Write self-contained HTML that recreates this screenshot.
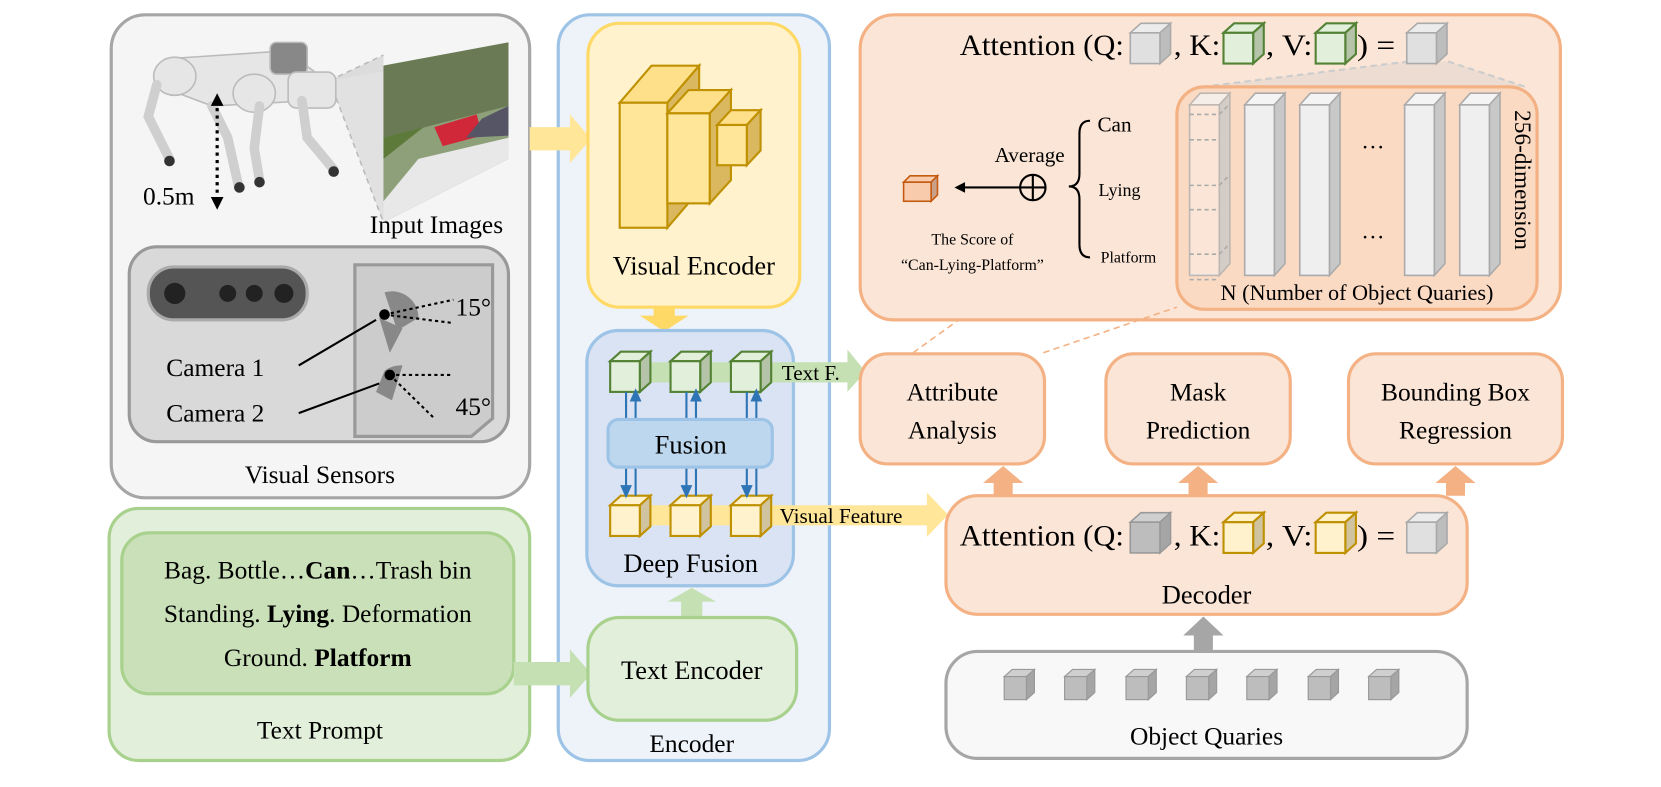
<!DOCTYPE html>
<html><head><meta charset="utf-8"><style>
body{margin:0;background:#fff}
svg{display:block;font-family:"Liberation Serif",serif}
</style></head><body>
<svg width="1661" height="787" viewBox="0 0 1568 743" preserveAspectRatio="none" font-family="Liberation Serif, serif" xmlns="http://www.w3.org/2000/svg">
<defs>
<g id="cg"><path d="M0 9 L10 0 L38 0 L28 9Z" fill="#ececec" stroke="#aaa" stroke-width="1.5"/><path d="M28 9 L38 0 L38 29 L28 38Z" fill="#bdbdbd" stroke="#aaa" stroke-width="1.5"/><rect x="0" y="9" width="28" height="29" fill="#e0e0e0" stroke="#aaa" stroke-width="1.5"/></g>
<g id="cgr"><path d="M0 9 L10 0 L38 0 L28 9Z" fill="#e2efda" stroke="#548235" stroke-width="2"/><path d="M28 9 L38 0 L38 29 L28 38Z" fill="#b5c4a8" stroke="#548235" stroke-width="2"/><rect x="0" y="9" width="28" height="29" fill="#e2efda" stroke="#548235" stroke-width="2"/></g>
<g id="cy"><path d="M0 9 L10 0 L38 0 L28 9Z" fill="#fff2cc" stroke="#bf9000" stroke-width="2"/><path d="M28 9 L38 0 L38 29 L28 38Z" fill="#d0c3a0" stroke="#bf9000" stroke-width="2"/><rect x="0" y="9" width="28" height="29" fill="#fff2cc" stroke="#bf9000" stroke-width="2"/></g>
<g id="cq"><path d="M0 9 L10 0 L38 0 L28 9Z" fill="#cfcfcf" stroke="#999" stroke-width="1.5"/><path d="M28 9 L38 0 L38 29 L28 38Z" fill="#a5a5a5" stroke="#999" stroke-width="1.5"/><rect x="0" y="9" width="28" height="29" fill="#bdbdbd" stroke="#999" stroke-width="1.5"/></g>
<g id="col"><path d="M0 11 L10 0 L38 0 L28 11Z" fill="#f4f4f4" stroke="#aaa" stroke-width="1.5"/><path d="M28 11 L38 0 L38 161 L28 172Z" fill="#c8c8c8" stroke="#aaa" stroke-width="1.5"/><rect x="0" y="11" width="28" height="161" fill="#efefef" stroke="#aaa" stroke-width="1.5"/></g>
</defs>

<!-- Left top -->
<rect x="105" y="14" width="395" height="456" rx="32" fill="#f5f5f5" stroke="#a6a6a6" stroke-width="3"/>
<path d="M311 76 L362 52 L362 210 Z" fill="#dcdcdc"/>
<path d="M311 76 L480 48 L480 150 L362 210Z" fill="#e4e4e4" opacity="0.6"/>
<line x1="311" y1="76" x2="362" y2="52" stroke="#bbb" stroke-dasharray="5,4" stroke-width="1.5"/>
<line x1="311" y1="76" x2="362" y2="210" stroke="#bbb" stroke-dasharray="5,4" stroke-width="1.5"/>
<path d="M362 62 L480 40 L480 150 L362 210Z" fill="#8ea07a"/>
<path d="M362 62 L480 40 L480 100 L362 130Z" fill="#6a7a55"/>
<path d="M362 130 L400 120 L362 150Z" fill="#5d7a3a"/>
<path d="M410 120 L450 108 L455 128 L418 138Z" fill="#d02838"/>
<path d="M362 190 L395 150 L480 130 L480 150 L362 210Z" fill="#e8e8e8"/>
<path d="M480 100 L480 128 L440 130 L455 112Z" fill="#556"/>
<g fill="#e6e6e6" stroke="#bbb" stroke-width="1.5">
<path d="M165 55 L270 48 L300 70 L295 95 L200 100 L160 85Z"/>
<ellipse cx="165" cy="72" rx="20" ry="18"/>
<ellipse cx="240" cy="88" rx="20" ry="18"/>
<rect x="255" y="40" width="35" height="30" rx="6" fill="#888"/>
<rect x="272" y="68" width="45" height="34" rx="8"/>
</g>
<g fill="none" stroke="#cfcfcf" stroke-width="9" stroke-linecap="round">
<path d="M148 80 L140 110 L160 150"/><path d="M200 100 L215 130 L225 175"/><path d="M245 100 L240 140 L245 170"/><path d="M285 95 L290 130 L315 160"/>
</g>
<g fill="#333"><circle cx="160" cy="152" r="5"/><circle cx="226" cy="177" r="5"/><circle cx="245" cy="172" r="5"/><circle cx="315" cy="162" r="5"/></g>
<line x1="205" y1="95" x2="205" y2="190" stroke="#000" stroke-width="3" stroke-dasharray="3,4"/>
<path d="M199 186 L205 198 L211 186Z"/><path d="M199 100 L205 88 L211 100Z"/>
<text x="135" y="193" font-size="24">0.5m</text>
<text x="412" y="220" font-size="24" text-anchor="middle">Input Images</text>
<rect x="122" y="233" width="358" height="184" rx="26" fill="#d9d9d9" stroke="#999" stroke-width="3"/>
<rect x="140" y="252" width="150" height="50" rx="24" fill="#555" stroke="#aaa" stroke-width="3"/>
<circle cx="165" cy="277" r="10" fill="#222"/><circle cx="215" cy="277" r="8" fill="#222"/><circle cx="240" cy="277" r="8" fill="#222"/><circle cx="268" cy="277" r="9" fill="#222"/>
<path d="M335 250 L465 250 L465 395 L445 412 L335 412Z" fill="#ccc" stroke="#999" stroke-width="3"/>
<path d="M363 276 A25 25 0 0 1 395 300 L375 312Z" fill="#888"/>
<path d="M358 300 L380 310 L368 333Z" fill="#888"/>
<path d="M363 350 A25 25 0 0 1 380 345 L370 378 L355 370Z" fill="#888"/>
<circle cx="363" cy="297" r="5"/><circle cx="368" cy="354" r="5"/>
<line x1="363" y1="297" x2="428" y2="283" stroke="#000" stroke-width="2" stroke-dasharray="3,3"/>
<line x1="363" y1="297" x2="428" y2="305" stroke="#000" stroke-width="2" stroke-dasharray="3,3"/>
<line x1="368" y1="354" x2="428" y2="354" stroke="#000" stroke-width="2" stroke-dasharray="3,3"/>
<line x1="368" y1="354" x2="410" y2="395" stroke="#000" stroke-width="2" stroke-dasharray="3,3"/>
<line x1="282" y1="345" x2="355" y2="302" stroke="#000" stroke-width="2"/>
<line x1="282" y1="390" x2="358" y2="362" stroke="#000" stroke-width="2"/>
<text x="430" y="298" font-size="24">15°</text>
<text x="430" y="392" font-size="24">45°</text>
<text x="157" y="355" font-size="24">Camera 1</text>
<text x="157" y="398" font-size="24">Camera 2</text>
<text x="302" y="456" font-size="24" text-anchor="middle">Visual Sensors</text>

<rect x="103" y="480" width="397" height="238" rx="28" fill="#e2efda" stroke="#a9d18e" stroke-width="3"/>
<rect x="115" y="503" width="370" height="152" rx="26" fill="#c9e0b8" stroke="#a9d18e" stroke-width="3"/>
<text x="300" y="546" font-size="24" text-anchor="middle">Bag. Bottle…<tspan font-weight="bold">Can</tspan>…Trash bin</text>
<text x="300" y="587" font-size="24" text-anchor="middle">Standing. <tspan font-weight="bold">Lying</tspan>. Deformation</text>
<text x="300" y="629" font-size="24" text-anchor="middle">Ground. <tspan font-weight="bold">Platform</tspan></text>
<text x="302" y="697" font-size="24" text-anchor="middle">Text Prompt</text>

<!-- Encoder -->
<rect x="527" y="14" width="256" height="704" rx="30" fill="#eef3fa" stroke="#9dc3e6" stroke-width="3"/>
<path d="M500 120 L538 120 L538 108 L558 131 L538 154 L538 142 L500 142Z" fill="#ffe699"/>
<path d="M485 625 L538 625 L538 613 L558 636 L538 659 L538 647 L485 647Z" fill="#c5e0b3"/>
<rect x="555" y="22" width="200" height="268" rx="30" fill="#fff2cc" stroke="#ffd966" stroke-width="3"/>
<g stroke="#bf9000" stroke-width="2">
<path d="M585 97 L615 62 L660 62 L630 97Z" fill="#ffe08a"/><path d="M630 97 L660 62 L660 180 L630 215Z" fill="#d9b860"/><rect x="585" y="97" width="45" height="118" fill="#ffe699"/>
<path d="M630 107 L650 85 L690 85 L670 107Z" fill="#ffe08a"/><path d="M670 107 L690 85 L690 170 L670 192Z" fill="#d9b860"/><rect x="630" y="107" width="40" height="85" fill="#ffe699"/>
<path d="M677 118 L690 104 L718 104 L705 118Z" fill="#ffe08a"/><path d="M705 118 L718 104 L718 142 L705 156Z" fill="#d9b860"/><rect x="677" y="118" width="28" height="38" fill="#ffe699"/>
</g>
<text x="655" y="259" font-size="25" text-anchor="middle">Visual Encoder</text>
<path d="M617 290 L637 290 L637 298 L650 298 L627 313 L604 298 L617 298Z" fill="#ffd966"/>
<rect x="554" y="312" width="195" height="241" rx="30" fill="#dae3f3" stroke="#9dc3e6" stroke-width="3"/>
<rect x="595" y="342" width="210" height="19" fill="#c5e0b3"/>
<path d="M800 330 L817 351 L800 370Z" fill="#c5e0b3"/>
<text x="738" y="359" font-size="20">Text F.</text>
<rect x="595" y="477" width="283" height="19" fill="#ffe699"/>
<path d="M875 465 L895 486 L875 507Z" fill="#ffe699"/>
<text x="736" y="494" font-size="20">Visual Feature</text>
<use href="#cgr" x="576" y="332"/><use href="#cgr" x="633" y="332"/><use href="#cgr" x="690" y="332"/>
<use href="#cy" x="576" y="468"/><use href="#cy" x="633" y="468"/><use href="#cy" x="690" y="468"/>
<g stroke="#2e75b6" stroke-width="2" fill="#2e75b6">
<line x1="591" y1="370" x2="591" y2="396"/><line x1="600" y1="376" x2="600" y2="396"/>
<line x1="648" y1="370" x2="648" y2="396"/><line x1="657" y1="376" x2="657" y2="396"/>
<line x1="705" y1="370" x2="705" y2="396"/><line x1="714" y1="376" x2="714" y2="396"/>
<line x1="591" y1="441" x2="591" y2="461"/><line x1="600" y1="441" x2="600" y2="468"/>
<line x1="648" y1="441" x2="648" y2="461"/><line x1="657" y1="441" x2="657" y2="468"/>
<line x1="705" y1="441" x2="705" y2="461"/><line x1="714" y1="441" x2="714" y2="468"/>
<path d="M596 378 L600 369 L604 378Z"/><path d="M653 378 L657 369 L661 378Z"/><path d="M710 378 L714 369 L718 378Z"/>
<path d="M587 459 L591 468 L595 459Z"/><path d="M644 459 L648 468 L652 459Z"/><path d="M701 459 L705 468 L709 459Z"/>
</g>
<rect x="574" y="396" width="155" height="45" rx="10" fill="#bdd7ee" stroke="#9dc3e6" stroke-width="3"/>
<text x="652" y="428" font-size="25" text-anchor="middle">Fusion</text>
<text x="652" y="540" font-size="25" text-anchor="middle">Deep Fusion</text>
<path d="M643 583 L663 583 L663 568 L676 568 L653 555 L630 568 L643 568Z" fill="#c5e0b3"/>
<rect x="555" y="583" width="197" height="97" rx="30" fill="#e2efda" stroke="#a9d18e" stroke-width="3"/>
<text x="653" y="641" font-size="25" text-anchor="middle">Text Encoder</text>
<text x="653" y="710" font-size="24" text-anchor="middle">Encoder</text>

<!-- Right top -->
<rect x="812" y="14" width="661" height="288" rx="32" fill="#fbe5d6" stroke="#f4b183" stroke-width="3"/>
<path d="M1135 82 L1330 58 L1367 58 L1440 82Z" fill="#e9d9cf" opacity="0.8"/>
<line x1="1135" y1="82" x2="1330" y2="58" stroke="#ccc" stroke-width="2" stroke-dasharray="6,4"/>
<line x1="1367" y1="58" x2="1440" y2="82" stroke="#ccc" stroke-width="2" stroke-dasharray="6,4"/>
<text x="906" y="52" font-size="28" textLength="155" lengthAdjust="spacingAndGlyphs">Attention (Q:</text>
<use href="#cg" x="1067" y="22"/>
<text x="1108" y="52" font-size="28" textLength="44" lengthAdjust="spacingAndGlyphs">, K:</text>
<use href="#cgr" x="1155" y="22"/>
<text x="1195" y="52" font-size="28" textLength="44" lengthAdjust="spacingAndGlyphs">, V:</text>
<use href="#cgr" x="1242" y="22"/>
<text x="1281" y="52" font-size="28" textLength="36" lengthAdjust="spacingAndGlyphs">) =</text>
<use href="#cg" x="1328" y="22"/>
<rect x="1111" y="82" width="340" height="210" rx="26" fill="#f8cbad" fill-opacity="0.45" stroke="#f4b183" stroke-width="3"/>
<g opacity="0.75"><use href="#col" x="1123" y="88"/></g>
<rect x="1124" y="100" width="26" height="158" fill="#fbe5d6"/>
<g fill="none" stroke="#aaa" stroke-width="1.5" stroke-dasharray="4,3"><path d="M1123 108 L1151 108 L1161 98 M1123 132 L1151 132 M1123 175 L1151 175 L1161 165 M1123 198 L1151 198 M1123 240 L1151 240 L1161 230 M1123 264 L1151 264"/></g>
<use href="#col" x="1175" y="88"/><use href="#col" x="1227" y="88"/><use href="#col" x="1326" y="88"/><use href="#col" x="1378" y="88"/>
<text x="1296" y="140" font-size="22" text-anchor="middle">…</text>
<text x="1296" y="225" font-size="22" text-anchor="middle">…</text>
<text x="1430" y="104" font-size="22" transform="rotate(90 1430 104)">256-dimension</text>
<text x="1281" y="283" font-size="21" text-anchor="middle">N (Number of Object Quaries)</text>
<text x="1036" y="124" font-size="20">Can</text>
<text x="1037" y="185" font-size="17">Lying</text>
<text x="1039" y="248" font-size="15">Platform</text>
<path d="M1029 114 Q1019 114 1019 126 L1019 164 Q1019 176 1009 176 Q1019 176 1019 188 L1019 231 Q1019 243 1029 243" fill="none" stroke="#000" stroke-width="2"/>
<text x="972" y="153" font-size="20" text-anchor="middle">Average</text>
<circle cx="975" cy="177" r="12" fill="none" stroke="#000" stroke-width="2"/>
<path d="M963 177 L987 177 M975 165 L975 189" stroke="#000" stroke-width="2"/>
<line x1="905" y1="177" x2="963" y2="177" stroke="#000" stroke-width="2"/>
<path d="M901 177 L911 172 L911 182Z"/>
<g transform="translate(853 166)"><path d="M0 6 L6 0 L32 0 L26 6Z" fill="#f8cbad" stroke="#c55a11" stroke-width="1.5"/><path d="M26 6 L32 0 L32 18 L26 24Z" fill="#c9a08a" stroke="#c55a11" stroke-width="1.5"/><rect x="0" y="6" width="26" height="18" fill="#f8cbad" stroke="#c55a11" stroke-width="1.5"/></g>
<text x="918" y="231" font-size="15" text-anchor="middle">The Score of</text>
<text x="918" y="255" font-size="15" text-anchor="middle">“Can-Lying-Platform”</text>
<line x1="862" y1="333" x2="905" y2="302" stroke="#f4b183" stroke-width="1.5" stroke-dasharray="6,4"/>
<line x1="985" y1="333" x2="1111" y2="290" stroke="#f4b183" stroke-width="1.5" stroke-dasharray="6,4"/>

<rect x="812" y="334" width="174" height="104" rx="26" fill="#fbe5d6" stroke="#f4b183" stroke-width="3"/>
<text x="899" y="378" font-size="24" text-anchor="middle">Attribute</text><text x="899" y="414" font-size="24" text-anchor="middle">Analysis</text>
<rect x="1044" y="334" width="174" height="104" rx="26" fill="#fbe5d6" stroke="#f4b183" stroke-width="3"/>
<text x="1131" y="378" font-size="24" text-anchor="middle">Mask</text><text x="1131" y="414" font-size="24" text-anchor="middle">Prediction</text>
<rect x="1273" y="334" width="202" height="104" rx="26" fill="#fbe5d6" stroke="#f4b183" stroke-width="3"/>
<text x="1374" y="378" font-size="24" text-anchor="middle">Bounding Box</text><text x="1374" y="414" font-size="24" text-anchor="middle">Regression</text>
<g fill="#f4b183">
<path d="M938 468 L956 468 L956 456 L966 456 L947 440 L928 456 L938 456Z"/>
<path d="M1122 468 L1140 468 L1140 456 L1150 456 L1131 440 L1112 456 L1122 456Z"/>
<path d="M1365 468 L1383 468 L1383 456 L1393 456 L1374 440 L1355 456 L1365 456Z"/>
</g>
<rect x="893" y="468" width="492" height="112" rx="30" fill="#fbe5d6" stroke="#f4b183" stroke-width="3"/>
<text x="906" y="515" font-size="28" textLength="155" lengthAdjust="spacingAndGlyphs">Attention (Q:</text>
<use href="#cq" x="1067" y="484"/>
<text x="1108" y="515" font-size="28" textLength="44" lengthAdjust="spacingAndGlyphs">, K:</text>
<use href="#cy" x="1155" y="484"/>
<text x="1195" y="515" font-size="28" textLength="44" lengthAdjust="spacingAndGlyphs">, V:</text>
<use href="#cy" x="1242" y="484"/>
<text x="1281" y="515" font-size="28" textLength="36" lengthAdjust="spacingAndGlyphs">) =</text>
<use href="#cg" x="1328" y="484"/>
<text x="1139" y="570" font-size="25" text-anchor="middle">Decoder</text>
<path d="M1127 614 L1145 614 L1145 600 L1155 600 L1136 582 L1117 600 L1127 600Z" fill="#a6a6a6"/>
<rect x="893" y="615" width="492" height="101" rx="30" fill="#f8f8f8" stroke="#a6a6a6" stroke-width="3"/>
<g><use href="#cq" x="948" y="632" transform="translate(948 632) scale(0.75) translate(-948 -632)"/>
<use href="#cq" x="1005" y="632" transform="translate(1005 632) scale(0.75) translate(-1005 -632)"/>
<use href="#cq" x="1063" y="632" transform="translate(1063 632) scale(0.75) translate(-1063 -632)"/>
<use href="#cq" x="1120" y="632" transform="translate(1120 632) scale(0.75) translate(-1120 -632)"/>
<use href="#cq" x="1177" y="632" transform="translate(1177 632) scale(0.75) translate(-1177 -632)"/>
<use href="#cq" x="1235" y="632" transform="translate(1235 632) scale(0.75) translate(-1235 -632)"/>
<use href="#cq" x="1292" y="632" transform="translate(1292 632) scale(0.75) translate(-1292 -632)"/></g>
<text x="1139" y="703" font-size="24" text-anchor="middle">Object Quaries</text>
</svg>
</body></html>
